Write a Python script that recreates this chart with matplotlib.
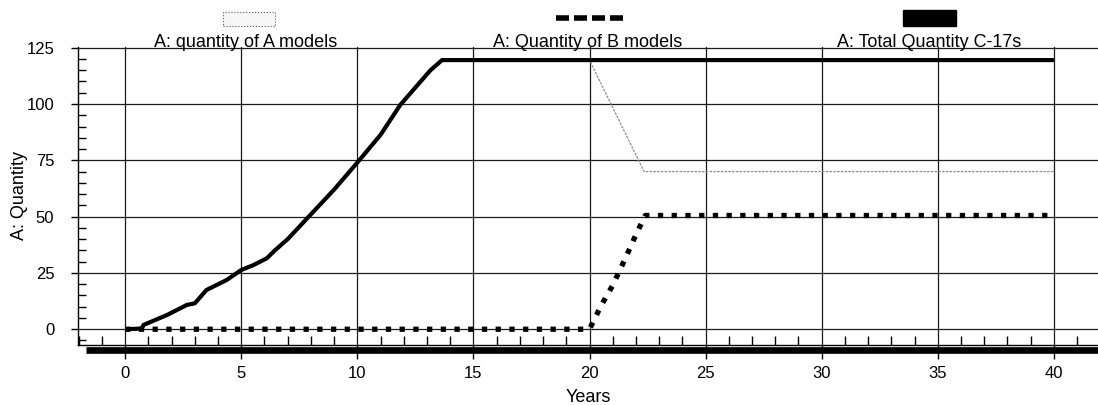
import matplotlib.pyplot as plt
from matplotlib.lines import Line2D
from matplotlib.patches import Rectangle
from matplotlib.ticker import MultipleLocator

plt.rcParams['font.family'] = ['Liberation Sans', 'DejaVu Sans']

# values
years_total = [0, 0.72, 0.79, 1.8, 2.66, 3.0, 3.5, 4.38, 5.0, 5.53, 6.1, 6.47,
               7, 8, 9, 10, 11, 11.85, 13.15, 13.65, 40]
qty_total = [0, 0.3, 1.9, 6.3, 10.8, 11.5, 17.4, 21.9, 26.3, 28.5, 31.5, 35.2,
             40, 51, 62, 74, 86.3, 99.6, 115, 119.5, 119.5]

years_a = [0, 0.72, 0.79, 1.8, 2.66, 3.0, 3.5, 4.38, 5.0, 5.53, 6.1, 6.47,
           7, 8, 9, 10, 11, 11.85, 13.15, 13.65, 20.0, 22.35, 40]
qty_a = [0, 0.3, 1.9, 6.3, 10.8, 11.5, 17.4, 21.9, 26.3, 28.5, 31.5, 35.2,
         40, 51, 62, 74, 86.3, 99.6, 115, 119.5, 119.5, 70, 70]

years_b = [0, 20.0, 20.5, 21.0, 21.5, 22.0, 22.4, 40]
qty_b = [0, 0, 10.5, 19.5, 30.5, 42, 50.5, 50.5]

legend_labels = ["A: quantity of A models", "A: Quantity of B models",
                 "A: Total Quantity C-17s"]

W, H = 1098, 405
fig = plt.figure(figsize=(W / 100, H / 100), dpi=100)
ax = fig.add_axes([78 / W, 1 - 345 / H, 1020 / W, (345 - 46.8) / H])

# lines
ax.plot(years_a, qty_a, color='0.55', lw=0.9, linestyle=(0, (2, 1)), zorder=3)
ax.plot(years_total, qty_total, color='black', lw=3, solid_capstyle='butt', zorder=4)
ax.plot(years_b, qty_b, color='black', lw=3.8, linestyle=(0, (1, 1.6)),
        dash_capstyle='butt', zorder=5)

ax.set_xlim(-2.03, 41.9)
ax.set_ylim(-7, 125.4)

ax.set_xticks(range(0, 41, 5))
ax.xaxis.set_minor_locator(MultipleLocator(1))
ax.set_yticks(range(0, 126, 25))
ax.yaxis.set_minor_locator(MultipleLocator(5))

ax.tick_params(axis='x', which='major', direction='out', length=10, width=1,
               pad=5, labelsize=12)
ax.tick_params(axis='x', which='minor', direction='in', length=6.5, width=1)
ax.tick_params(axis='y', which='major', direction='out', length=5, width=1,
               pad=12, labelsize=12)
ax.tick_params(axis='y', which='minor', direction='in', length=6, width=1)

ax.grid(True, which='major', color='#1a1a1a', lw=0.9)
for s in ['top', 'right']:
    ax.spines[s].set_visible(False)
ax.spines['left'].set_linewidth(1)
ax.spines['bottom'].set_linewidth(1)

# thick bar under the axis
ax.plot([-1.68, 41.9], [-9.3, -9.3], color='black', lw=4.8,
        solid_capstyle='butt', clip_on=False, zorder=6)

# axis labels
fig.text(588 / W, 1 - 402 / H, "Years", ha='center', va='baseline', fontsize=13)
fig.text(20 / W, 1 - 196 / H, "A: Quantity", ha='center', va='center',
         rotation=90, fontsize=13)

# legend drawn above the plot
fig.patches.append(Rectangle((223 / W, 1 - 26 / H), 52 / W, 14 / H,
                             transform=fig.transFigure, facecolor='#f6f6f6',
                             edgecolor='0.35', lw=0.8, linestyle=':'))
fig.lines.append(Line2D([556 / W, 623 / W], [1 - 18 / H, 1 - 18 / H],
                        transform=fig.transFigure, color='black', lw=4,
                        linestyle=(0, (2.34, 0.9)), dash_capstyle='butt'))
fig.patches.append(Rectangle((903 / W, 1 - 26 / H), 53 / W, 16 / H,
                             transform=fig.transFigure, facecolor='black',
                             edgecolor='black'))
for cx, lab in zip([246, 588, 929], legend_labels):
    fig.text(cx / W, 1 - 47 / H, lab, ha='center', va='baseline', fontsize=13)

fig.savefig('out.png', dpi=100)
